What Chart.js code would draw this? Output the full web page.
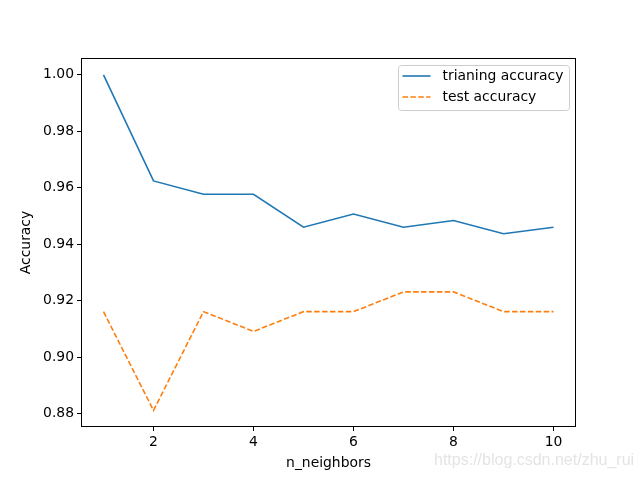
<!DOCTYPE html>
<html><head><meta charset="utf-8">
<script src="https://cdn.jsdelivr.net/npm/chart.js@4/dist/chart.umd.min.js"></script>
<style>
html,body{margin:0;padding:0;background:#fff;}
#wrap{position:relative;width:640px;height:480px;}
#wm{position:absolute;left:434px;top:451px;font-family:"Liberation Sans",Arial,sans-serif;font-size:16px;color:#e4e4e4;white-space:nowrap;}
</style></head>
<body><div id="wrap"><canvas id="c" width="640" height="480"></canvas><div id="wm">https://blog.csdn.net/zhu_rui</div></div>
<script>
const neighbors = [1,2,3,4,5,6,7,8,9,10];
const trainAcc = [1.0, 0.9624, 0.9577, 0.9577, 0.9460, 0.9507, 0.9460, 0.9484, 0.9437, 0.9460];
const testAcc = [0.9161, 0.8811, 0.9161, 0.9091, 0.9161, 0.9161, 0.9231, 0.9231, 0.9161, 0.9161];
const xTicks = [2,4,6,8,10];
const yTicks = [0.88,0.90,0.92,0.94,0.96,0.98,1.00];
const xTitle = 'n_neighbors';
const yTitle = 'Accuracy';
const FONT = "DejaVu Sans";
const FS = 13.9;

const framePlugin = {
  id:'frame',
  afterDraw(chart){
    const {ctx, chartArea:a} = chart;
    ctx.save();
    ctx.strokeStyle='#000'; ctx.lineWidth=1;
    ctx.strokeRect(Math.round(a.left)+0.5, Math.round(a.top)+0.5, Math.round(a.right-a.left)-1, Math.round(a.bottom-a.top)-1);
    // axis titles
    ctx.fillStyle='#000';
    ctx.font = FS+'px "'+FONT+'"';
    ctx.textAlign='center'; ctx.textBaseline='middle';
    ctx.fillText(xTitle, (a.left+a.right)/2, 463);
    ctx.save();
    ctx.translate(26,(a.top+a.bottom)/2);
    ctx.rotate(-Math.PI/2);
    ctx.fillText(yTitle,0,0);
    ctx.restore();
    // legend
    const lx=398.5, ly=65.5, lw=171, lh=45;
    ctx.fillStyle='rgba(255,255,255,0.8)';
    ctx.strokeStyle='#cccccc';
    ctx.beginPath();
    const r=3;
    ctx.moveTo(lx+r,ly);ctx.lineTo(lx+lw-r,ly);ctx.quadraticCurveTo(lx+lw,ly,lx+lw,ly+r);
    ctx.lineTo(lx+lw,ly+lh-r);ctx.quadraticCurveTo(lx+lw,ly+lh,lx+lw-r,ly+lh);
    ctx.lineTo(lx+r,ly+lh);ctx.quadraticCurveTo(lx,ly+lh,lx,ly+lh-r);
    ctx.lineTo(lx,ly+r);ctx.quadraticCurveTo(lx,ly,lx+r,ly);
    ctx.fill();ctx.stroke();
    ctx.textAlign='left';
    chart.data.datasets.forEach((ds,i)=>{
      const yy = ly+10.5+i*21;
      ctx.strokeStyle=ds.borderColor; ctx.lineWidth=1.6;
      ctx.setLineDash(ds.borderDash||[]);
      ctx.beginPath();ctx.moveTo(lx+4,yy);ctx.lineTo(lx+32,yy);ctx.stroke();
      ctx.setLineDash([]);
      ctx.fillStyle='#000';
      ctx.fillText(ds.label, lx+44, yy);
    });
    ctx.restore();
  }
};

new Chart(document.getElementById('c'),{
  type:'line',
  data:{datasets:[
    {label:'trianing accuracy', data:neighbors.map((n,i)=>({x:n,y:trainAcc[i]})), borderColor:'#1f77b4', borderWidth:1.6, pointRadius:0, tension:0, fill:false},
    {label:'test accuracy', data:neighbors.map((n,i)=>({x:n,y:testAcc[i]})), borderColor:'#ff7f0e', borderWidth:1.6, borderDash:[5.5,2.4], pointRadius:0, tension:0, fill:false}
  ]},
  options:{
    responsive:false, animation:false, devicePixelRatio:1,
    layout:{padding:{left:0,right:64,top:58,bottom:0}},
    plugins:{legend:{display:false},tooltip:{enabled:false}},
    scales:{
      x:{type:'linear', min:0.55, max:10.45,
        afterBuildTicks(s){ s.ticks = xTicks.map(v=>({value:v})); },
        afterFit(s){ s.height=53; },
        ticks:{color:'#000', font:{family:FONT,size:FS}, padding:3, maxRotation:0, autoSkip:false, callback:v=>String(v)},
        grid:{drawOnChartArea:false, tickLength:4, tickColor:'#000', tickWidth:1},
        border:{display:false}
      },
      y:{type:'linear', min:0.87524, max:1.00595,
        afterBuildTicks(s){ s.ticks = yTicks.map(v=>({value:v})); },
        afterFit(s){ s.width=81; },
        ticks:{color:'#000', font:{family:FONT,size:FS}, padding:3, autoSkip:false, callback:v=>v.toFixed(2)},
        grid:{drawOnChartArea:false, tickLength:4, tickColor:'#000', tickWidth:1},
        border:{display:false}
      }
    }
  },
  plugins:[framePlugin]
});
</script></body></html>
